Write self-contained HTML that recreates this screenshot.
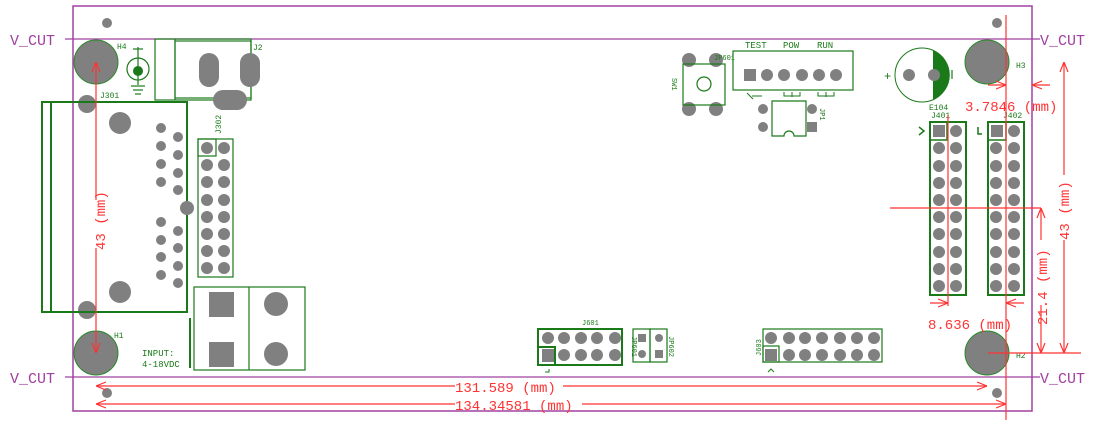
<!DOCTYPE html>
<html><head><meta charset="utf-8"><style>
html,body{margin:0;padding:0;background:#fff;}
svg{display:block;}
text{font-family:"Liberation Mono",monospace;}
</style></head><body>
<svg width="1115" height="428" viewBox="0 0 1115 428" xmlns="http://www.w3.org/2000/svg">
<defs>
<marker id="a" viewBox="0 0 10 10" refX="10" refY="5" markerWidth="10" markerHeight="10" orient="auto-start-reverse" markerUnits="userSpaceOnUse"><path d="M0,1 L10,5 L0,9" fill="none" stroke="#f33" stroke-width="1.2"/></marker>
</defs>
<!-- board -->
<rect x="73" y="6" width="959" height="405" fill="none" stroke="#a040a0" stroke-width="1.5"/>
<line x1="65" y1="39" x2="1040" y2="39" stroke="#a040a0" stroke-width="1.2"/>
<line x1="65" y1="377" x2="1040" y2="377" stroke="#a040a0" stroke-width="1.2"/>
<g fill="#a040a0" font-size="15"><text x="10" y="45">V_CUT</text><text x="1040" y="45">V_CUT</text><text x="10" y="383">V_CUT</text><text x="1040" y="383">V_CUT</text></g>
<!-- holes -->
<g fill="#808080" stroke="#2a8a2a" stroke-width="1">
<circle cx="96" cy="62" r="22"/><circle cx="96" cy="353" r="22"/><circle cx="987" cy="62" r="22"/><circle cx="987" cy="353" r="22"/>
</g>
<g fill="#808080"><circle cx="107" cy="23" r="5"/><circle cx="107" cy="393" r="5"/><circle cx="997" cy="23" r="5"/><circle cx="997" cy="393" r="5"/></g>
<g fill="#1a7a1a" font-size="8" font-family="Liberation Sans,sans-serif">
<text x="117" y="49">H4</text><text x="114" y="338">H1</text><text x="1016" y="68">H3</text><text x="1016" y="358">H2</text>
<text x="100" y="98">J301</text><text x="253" y="50">J2</text>
</g>
<!-- ground symbol -->
<g stroke="#1a7a1a" fill="none" stroke-width="1.2">
<circle cx="138" cy="69" r="11"/><line x1="138" y1="47" x2="138" y2="85"/><line x1="133" y1="49" x2="143" y2="49"/>
<line x1="131" y1="86" x2="145" y2="86"/><line x1="133" y1="90" x2="143" y2="90"/><line x1="135" y1="94" x2="141" y2="94"/>
</g>
<circle cx="138" cy="71" r="5" fill="#1a7a1a"/>
<!-- J2 -->
<g stroke="#1a7a1a" fill="none" stroke-width="1.2">
<rect x="155" y="39" width="96" height="61"/><line x1="175" y1="39" x2="175" y2="100"/><rect x="175" y="41" width="76" height="57"/>
</g>
<g fill="#808080"><rect x="199" y="53" width="20" height="34" rx="10"/><rect x="240" y="53" width="20" height="34" rx="10"/><rect x="213" y="90" width="34" height="20" rx="10"/></g>
<!-- J301 -->
<g fill="#808080"><circle cx="87" cy="104" r="9"/><circle cx="87" cy="310" r="9"/></g>
<g stroke="#1a7a1a" fill="none" stroke-width="2"><rect x="42" y="102" width="145" height="210"/><line x1="51" y1="102" x2="51" y2="312"/></g>
<g fill="#808080">
<circle cx="120" cy="123" r="11"/><circle cx="120" cy="292" r="11"/><circle cx="187" cy="208" r="7"/>
<circle cx="161" cy="128" r="5"/><circle cx="161" cy="146" r="5"/><circle cx="161" cy="164" r="5"/><circle cx="161" cy="182" r="5"/>
<circle cx="178" cy="137" r="5"/><circle cx="178" cy="155" r="5"/><circle cx="178" cy="173" r="5"/><circle cx="178" cy="190" r="5"/>
<circle cx="161" cy="222" r="5"/><circle cx="161" cy="240" r="5"/><circle cx="161" cy="257" r="5"/><circle cx="161" cy="275" r="5"/>
<circle cx="178" cy="231" r="5"/><circle cx="178" cy="248" r="5"/><circle cx="178" cy="266" r="5"/><circle cx="178" cy="283" r="5"/>
</g>
<!-- J302 -->
<g stroke="#1a7a1a" fill="none" stroke-width="1.2"><rect x="198" y="139" width="35" height="138"/><rect x="198" y="139" width="18" height="17"/></g>
<g fill="#808080">
<circle cx="207" cy="148" r="6"/><circle cx="224" cy="148" r="6"/><circle cx="207" cy="165" r="6"/><circle cx="224" cy="165" r="6"/>
<circle cx="207" cy="182" r="6"/><circle cx="224" cy="182" r="6"/><circle cx="207" cy="200" r="6"/><circle cx="224" cy="200" r="6"/>
<circle cx="207" cy="217" r="6"/><circle cx="224" cy="217" r="6"/><circle cx="207" cy="234" r="6"/><circle cx="224" cy="234" r="6"/>
<circle cx="207" cy="251" r="6"/><circle cx="224" cy="251" r="6"/><circle cx="207" cy="268" r="6"/><circle cx="224" cy="268" r="6"/>
</g>
<text x="0" y="0" font-size="8" fill="#1a7a1a" font-family="Liberation Sans,sans-serif" transform="translate(221,134) rotate(-90)">J302</text>
<!-- power block -->
<g stroke="#1a7a1a" fill="none" stroke-width="1.2"><rect x="194" y="287" width="111" height="83"/><line x1="249" y1="287" x2="249" y2="370"/></g>
<line x1="190" y1="318" x2="190" y2="368" stroke="#1a7a1a" stroke-width="2"/>
<g fill="#808080"><rect x="209" y="292" width="25" height="25"/><rect x="209" y="342" width="25" height="25"/><circle cx="276" cy="304" r="12"/><circle cx="276" cy="354" r="12"/></g>
<g fill="#1a7a1a" font-size="9"><text x="142" y="356">INPUT:</text><text x="142" y="367">4-18VDC</text></g>
<!-- SW1 -->
<g fill="#808080"><circle cx="689" cy="60" r="7"/><circle cx="716" cy="60" r="7"/><circle cx="689" cy="109" r="7"/><circle cx="716" cy="109" r="7"/></g>
<g stroke="#1a7a1a" fill="none" stroke-width="1.2"><rect x="683" y="64" width="42" height="41"/><circle cx="704" cy="84" r="7"/></g>
<g fill="#1a7a1a" font-size="7" font-family="Liberation Sans,sans-serif"><text x="714" y="60">JP601</text></g>
<text font-size="7" fill="#1a7a1a" transform="translate(672,78) rotate(90)" font-family="Liberation Sans,sans-serif">SW1</text>
<!-- LED header -->
<rect x="733" y="51" width="120" height="39" fill="none" stroke="#1a7a1a" stroke-width="1.2"/>
<g fill="#808080"><rect x="744" y="69" width="12" height="12"/><circle cx="767" cy="75" r="6"/><circle cx="784" cy="75" r="6"/><circle cx="802" cy="75" r="6"/><circle cx="819" cy="75" r="6"/><circle cx="836" cy="75" r="6"/></g>
<g fill="#1a7a1a" font-size="9"><text x="745" y="48">TEST</text><text x="783" y="48">POW</text><text x="817" y="48">RUN</text></g>
<g stroke="#1a7a1a" fill="none" stroke-width="1"><path d="M784,92 v4 h16 v-4 M792,92 v5"/><path d="M818,92 v4 h16 v-4 M826,92 v5"/><path d="M747,93 l6,6 M752,96 h10"/></g>
<!-- JP1 -->
<path d="M772,101 h34 v35 h-12 a5,5 0 0 0 -10,0 h-12 z" fill="none" stroke="#1a7a1a" stroke-width="1.2"/>
<g fill="#808080"><circle cx="763" cy="109" r="5"/><circle cx="763" cy="127" r="5"/><circle cx="812" cy="109" r="5"/><rect x="807" y="122" width="10" height="10"/></g>
<text font-size="7" fill="#1a7a1a" transform="translate(820,108) rotate(90)" font-family="Liberation Sans,sans-serif">JP1</text>
<!-- E104 -->
<circle cx="922" cy="75" r="27" fill="none" stroke="#1a7a1a" stroke-width="1"/>
<path d="M933,50 A27,27 0 0 1 933,100 Z" fill="#1a7a1a"/>
<g fill="#808080"><circle cx="909" cy="75" r="6"/><circle cx="934" cy="75" r="6"/></g>
<g fill="#1a7a1a" font-size="12"><text x="884" y="80">+</text></g>
<line x1="952" y1="70" x2="952" y2="79" stroke="#1a7a1a" stroke-width="1.2"/>
<g fill="#1a7a1a" font-size="8" font-family="Liberation Sans,sans-serif"><text x="929" y="110">E104</text><text x="931" y="118">J401</text><text x="1003" y="118">J402</text></g>
<!-- J401 J402 -->
<g stroke="#1a7a1a" fill="none" stroke-width="2"><rect x="930" y="122" width="36" height="173"/><rect x="988" y="122" width="36" height="173"/></g>
<g stroke="#1a7a1a" fill="none" stroke-width="1.5"><rect x="930" y="122" width="17" height="18"/><rect x="988" y="122" width="18" height="18"/><path d="M919,127 l5,4 l-5,4"/><path d="M978,127 v7 h4"/></g>
<g fill="#808080">
<rect x="933" y="125" width="12" height="12"/><rect x="991" y="125" width="12" height="12"/>
<circle cx="956" cy="131" r="6"/><circle cx="1014" cy="131" r="6"/>
<circle cx="939" cy="148" r="6"/><circle cx="956" cy="148" r="6"/><circle cx="996" cy="148" r="6"/><circle cx="1014" cy="148" r="6"/>
<circle cx="939" cy="166" r="6"/><circle cx="956" cy="166" r="6"/><circle cx="996" cy="166" r="6"/><circle cx="1014" cy="166" r="6"/>
<circle cx="939" cy="183" r="6"/><circle cx="956" cy="183" r="6"/><circle cx="996" cy="183" r="6"/><circle cx="1014" cy="183" r="6"/>
<circle cx="939" cy="200" r="6"/><circle cx="956" cy="200" r="6"/><circle cx="996" cy="200" r="6"/><circle cx="1014" cy="200" r="6"/>
<circle cx="939" cy="217" r="6"/><circle cx="956" cy="217" r="6"/><circle cx="996" cy="217" r="6"/><circle cx="1014" cy="217" r="6"/>
<circle cx="939" cy="234" r="6"/><circle cx="956" cy="234" r="6"/><circle cx="996" cy="234" r="6"/><circle cx="1014" cy="234" r="6"/>
<circle cx="939" cy="252" r="6"/><circle cx="956" cy="252" r="6"/><circle cx="996" cy="252" r="6"/><circle cx="1014" cy="252" r="6"/>
<circle cx="939" cy="269" r="6"/><circle cx="956" cy="269" r="6"/><circle cx="996" cy="269" r="6"/><circle cx="1014" cy="269" r="6"/>
<circle cx="939" cy="286" r="6"/><circle cx="956" cy="286" r="6"/><circle cx="996" cy="286" r="6"/><circle cx="1014" cy="286" r="6"/>
</g>
<!-- J601 etc -->
<g stroke="#1a7a1a" fill="none" stroke-width="2"><rect x="538" y="329" width="84" height="36"/><rect x="538" y="347" width="17" height="18"/></g>
<g stroke="#1a7a1a" fill="none" stroke-width="1.2"><rect x="633" y="329" width="17" height="33"/><rect x="650" y="329" width="17" height="33"/><rect x="763" y="329" width="119" height="33"/><rect x="763" y="346" width="16" height="16"/></g>
<g fill="#808080">
<circle cx="548" cy="338" r="6"/><circle cx="564" cy="338" r="6"/><circle cx="581" cy="338" r="6"/><circle cx="597" cy="338" r="6"/><circle cx="615" cy="338" r="6"/>
<rect x="542" y="349" width="12" height="13"/><circle cx="564" cy="355" r="6"/><circle cx="581" cy="355" r="6"/><circle cx="597" cy="355" r="6"/><circle cx="615" cy="355" r="6"/>
<rect x="638" y="334" width="8" height="8"/><circle cx="642" cy="354" r="4"/><circle cx="659" cy="338" r="4"/><rect x="655" y="350" width="8" height="8"/>
<circle cx="771" cy="338" r="6"/><circle cx="789" cy="338" r="6"/><circle cx="805" cy="338" r="6"/><circle cx="822" cy="338" r="6"/><circle cx="840" cy="338" r="6"/><circle cx="857" cy="338" r="6"/><circle cx="874" cy="338" r="6"/>
<rect x="765" y="349" width="12" height="12"/><circle cx="789" cy="355" r="6"/><circle cx="805" cy="355" r="6"/><circle cx="822" cy="355" r="6"/><circle cx="840" cy="355" r="6"/><circle cx="857" cy="355" r="6"/><circle cx="874" cy="355" r="6"/>
</g>
<g fill="#1a7a1a" font-size="7" font-family="Liberation Sans,sans-serif"><text x="582" y="325">J601</text></g>
<text font-size="7" fill="#1a7a1a" transform="translate(632,336) rotate(90)" font-family="Liberation Sans,sans-serif">JP601</text>
<text font-size="7" fill="#1a7a1a" transform="translate(669,336) rotate(90)" font-family="Liberation Sans,sans-serif">JP602</text>
<text font-size="7" fill="#1a7a1a" transform="translate(761,356) rotate(-90)" font-family="Liberation Sans,sans-serif">J603</text>
<path d="M545,372 h4 v-3" stroke="#1a7a1a" fill="none"/><path d="M768,372 l3,-3 l3,3" stroke="#1a7a1a" fill="none"/>
<!-- dimensions -->
<g stroke="#f33" stroke-width="1.2" fill="none">
<line x1="96" y1="62" x2="96" y2="200" marker-start="url(#a)"/><line x1="96" y1="248" x2="96" y2="353" marker-end="url(#a)"/>
<line x1="96" y1="386" x2="455" y2="386" marker-start="url(#a)"/><line x1="563" y1="386" x2="987" y2="386" marker-end="url(#a)"/>
<line x1="96" y1="404" x2="455" y2="404" marker-start="url(#a)"/><line x1="582" y1="404" x2="1006" y2="404" marker-end="url(#a)"/>
<line x1="1006" y1="15" x2="1006" y2="420"/>
<line x1="988" y1="85" x2="1006" y2="85" marker-end="url(#a)"/><line x1="1050" y1="85" x2="1032" y2="85" marker-end="url(#a)"/>
<line x1="890" y1="208" x2="1041" y2="208"/><line x1="988" y1="353" x2="1081" y2="353"/>
<line x1="1041" y1="208" x2="1041" y2="240" marker-start="url(#a)"/><line x1="1041" y1="305" x2="1041" y2="353" marker-end="url(#a)"/>
<line x1="1064" y1="62" x2="1064" y2="175" marker-start="url(#a)"/><line x1="1064" y1="240" x2="1064" y2="353" marker-end="url(#a)"/>
<line x1="948" y1="115" x2="948" y2="306"/>
<line x1="930" y1="303" x2="948" y2="303" marker-end="url(#a)"/><line x1="1024" y1="303" x2="1006" y2="303" marker-end="url(#a)"/>
</g>
<g fill="#f33" font-size="14">
<text x="455" y="392">131.589 (mm)</text>
<text x="455" y="410">134.34581 (mm)</text>
<text x="965" y="111">3.7846 (mm)</text>
<text x="928" y="329">8.636 (mm)</text>
<text transform="translate(105,250) rotate(-90)">43 (mm)</text>
<text transform="translate(1047,325) rotate(-90)">21.4 (mm)</text>
<text transform="translate(1069,240) rotate(-90)">43 (mm)</text>
</g>
</svg>
</body></html>
